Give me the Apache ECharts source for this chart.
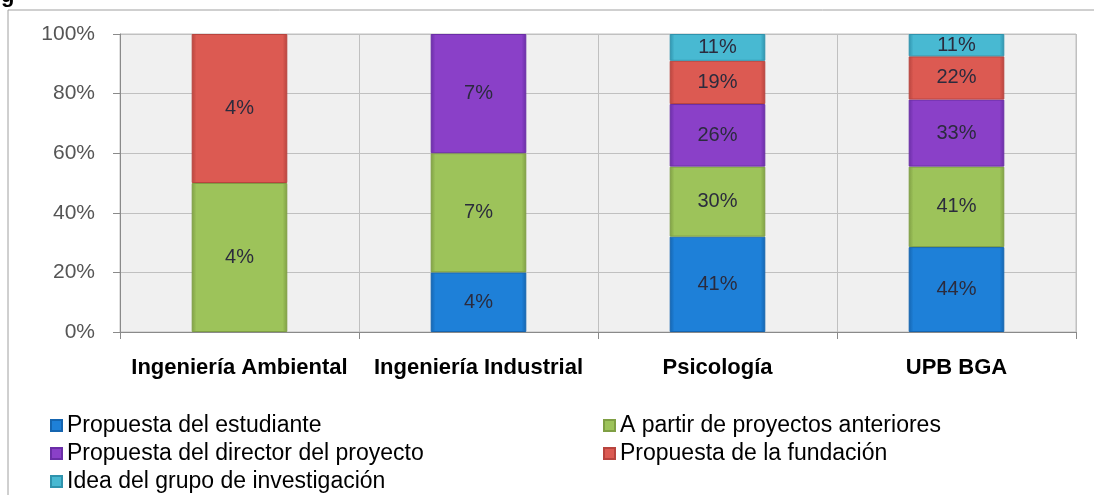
<!DOCTYPE html>
<html>
<head>
<meta charset="utf-8">
<script src="https://cdn.jsdelivr.net/npm/echarts@6/dist/echarts.min.js"></script>
<style>
  html, body { margin: 0; padding: 0; background: #fff; }
  #chart { width: 1094px; height: 495px; }
</style>
</head>
<body>
<div id="chart"></div>
<script>
  // categorías y series (alturas, en %)
  const categories = ['Ingeniería Ambiental', 'Ingeniería Industrial', 'Psicología', 'UPB BGA'];
  const yTicks = [0, 20, 40, 60, 80, 100];

  const estudiante = [null, 20, 32, 28.5];
  const anteriores = [50, 40, 23.5, 27];
  const director = [null, 40, 21, 22.5];
  const fundacion = [50, null, 14.5, 14.5];
  const grupo = [null, null, 9, 7.5];

  // etiquetas que muestra cada segmento
  const estudianteLbl = ['', '4%', '41%', '44%'];
  const anterioresLbl = ['4%', '7%', '30%', '41%'];
  const directorLbl = ['', '7%', '26%', '33%'];
  const fundacionLbl = ['4%', '', '19%', '22%'];
  const grupoLbl = ['', '', '11%', '11%'];

  const names = [
    'Propuesta del estudiante',
    'A partir de proyectos anteriores',
    'Propuesta del director del proyecto',
    'Propuesta de la fundación',
    'Idea del grupo de investigación'
  ];
  const values = [estudiante, anteriores, director, fundacion, grupo];
  const labels = [estudianteLbl, anterioresLbl, directorLbl, fundacionLbl, grupoLbl];
  const colors = [
    ['#1565b0', '#1e80d8'],
    ['#7f9f44', '#9dc35a'],
    ['#6a2ea6', '#8a40c8'],
    ['#b8443e', '#dc5a52'],
    ['#2f93ad', '#48b9d2']
  ];

  const myChart = echarts.init(document.getElementById('chart'));

  const series = values.map((v, i) => ({
    name: names[i],
    type: 'bar',
    stack: 'total',
    barWidth: '40%',
    data: v,
    itemStyle: {
      color: new echarts.graphic.LinearGradient(0, 0, 1, 0, [
        { offset: 0, color: colors[i][0] },
        { offset: 0.05, color: colors[i][1] },
        { offset: 0.95, color: colors[i][1] },
        { offset: 1, color: colors[i][0] }
      ]),
      borderColor: colors[i][0],
      borderWidth: 1
    },
    label: {
      show: true,
      position: 'inside',
      fontFamily: 'Liberation Sans',
      fontSize: 20,
      color: '#2b2b3d',
      formatter: p => labels[i][p.dataIndex]
    }
  }));

  const legendText = { fontFamily: 'Liberation Sans', fontSize: 23, color: '#000', lineHeight: 22 };

  myChart.setOption({
    animation: false,
    color: colors.map(c => c[1]),
    graphic: [
      { type: 'line', shape: { x1: 8, y1: 10, x2: 1094, y2: 10 }, style: { stroke: '#a0a0a0', lineWidth: 1 } },
      { type: 'line', shape: { x1: 8, y1: 10, x2: 8, y2: 495 }, style: { stroke: '#a0a0a0', lineWidth: 1 } },
      { type: 'text', left: 1, top: -15, style: { text: 'g', font: 'bold 22px "Liberation Sans"', fill: '#000' } }
    ],
    grid: {
      left: 120,
      right: 18,
      top: 34,
      bottom: 163,
      show: true,
      backgroundColor: '#f0f0f0',
      borderColor: '#c0c0c0',
      borderWidth: 1
    },
    legend: [
      {
        data: [names[0], names[2], names[4]],
        orient: 'vertical',
        left: 50,
        top: 414,
        padding: 0,
        itemGap: 5,
        itemWidth: 11,
        itemHeight: 11,
        icon: 'rect',
        textStyle: legendText
      },
      {
        data: [names[1], names[3]],
        orient: 'vertical',
        left: 603,
        top: 414,
        padding: 0,
        itemGap: 5,
        itemWidth: 11,
        itemHeight: 11,
        icon: 'rect',
        textStyle: legendText
      }
    ],
    xAxis: {
      type: 'category',
      data: categories,
      axisLine: { lineStyle: { color: '#8a8a8a' } },
      axisTick: { show: true, interval: 0, length: 7, lineStyle: { color: '#8a8a8a' } },
      splitLine: { show: true, interval: 0, lineStyle: { color: '#c0c0c0' } },
      axisLabel: {
        interval: 0,
        fontFamily: 'Liberation Sans',
        fontWeight: 'bold',
        fontSize: 22,
        color: '#000',
        margin: 25
      }
    },
    yAxis: {
      type: 'value',
      min: yTicks[0],
      max: yTicks[yTicks.length - 1],
      interval: 20,
      axisLine: { show: true, lineStyle: { color: '#8a8a8a' } },
      axisTick: { show: true, length: 7, lineStyle: { color: '#8a8a8a' } },
      splitLine: { lineStyle: { color: '#c0c0c0' } },
      axisLabel: {
        fontFamily: 'Liberation Sans',
        fontSize: 21,
        color: '#555',
        margin: 25,
        formatter: '{value}%'
      }
    },
    series: series
  });

  window.onresize = function () {
    myChart.resize();
  };
</script>
</body>
</html>
